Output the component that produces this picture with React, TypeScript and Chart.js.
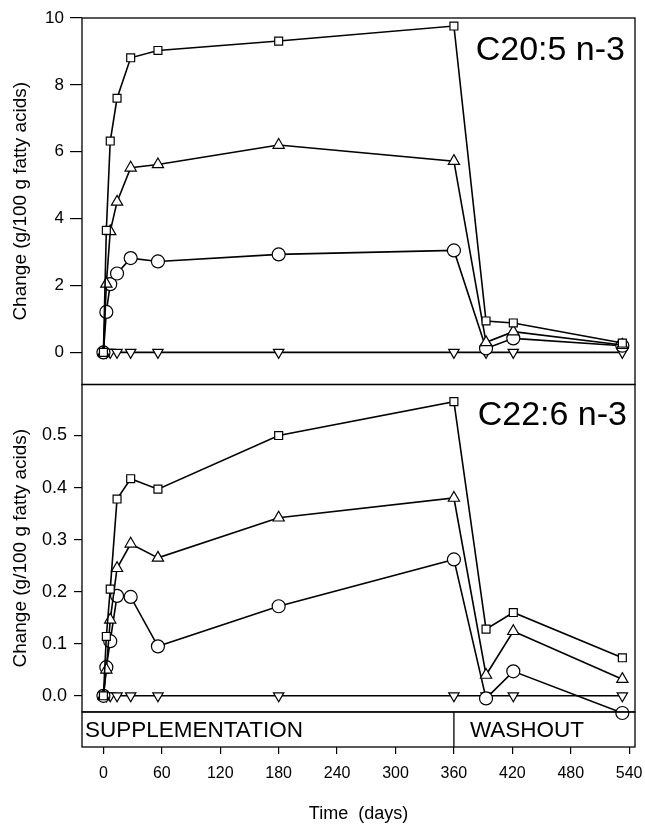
import React, { useEffect, useRef } from 'react';
import { Chart, registerables } from 'chart.js';

Chart.register(...registerables);

const FONT = "'Liberation Sans', Arial, Helvetica, sans-serif";

// Time points (days)
const days = [0, 3, 7, 14, 28, 56, 180, 360, 393, 421, 533];

// C20:5 n-3 (top panel)
const epaSquare = [0, 3.65, 6.32, 7.6, 8.81, 9.03, 9.31, 9.76, 0.94, 0.88, 0.28];
const epaTriangle = [0, 2.05, 3.62, 4.5, 5.52, 5.62, 6.2, 5.72, 0.3, 0.62, 0.22];
const epaCircle = [0, 1.21, 2.04, 2.36, 2.82, 2.72, 2.93, 3.05, 0.12, 0.42, 0.2];
const epaControl = [0, 0, 0, 0, 0, 0, 0, 0, 0, 0, 0];

// C22:6 n-3 (bottom panel)
const dhaSquare = [0, 0.114, 0.205, 0.378, 0.417, 0.397, 0.5, 0.565, 0.128, 0.16, 0.073];
const dhaTriangle = [0, 0.05, 0.146, 0.245, 0.292, 0.265, 0.342, 0.38, 0.04, 0.124, 0.032];
const dhaCircle = [0, 0.055, 0.105, 0.192, 0.19, 0.095, 0.172, 0.262, -0.005, 0.047, -0.033];
const dhaControl = [0, 0, 0, 0, 0, 0, 0, 0, 0, 0, 0];

// Tick labels
const xTicks = [0, 60, 120, 180, 240, 300, 360, 420, 480, 540];
const epaTicks = [0, 2, 4, 6, 8, 10];
const dhaTicks = [0, 0.1, 0.2, 0.3, 0.4, 0.5];

// Texts
const panelLabels = ['C20:5 n-3', 'C22:6 n-3'];
const phaseLabels = ['SUPPLEMENTATION', 'WASHOUT'];
const phaseBoundary = 360;
const yTitle = 'Change (g/100 g fatty acids)';
const xTitle = 'Time  (days)';

function series(vals: number[], style: string, rotation: number, radius: number, axis: string) {
  return {
    data: days.map((d, i) => ({ x: d, y: vals[i] })),
    yAxisID: axis,
    borderColor: '#000',
    borderWidth: 1.6,
    pointStyle: style,
    pointRotation: rotation,
    pointRadius: radius,
    pointBackgroundColor: '#fff',
    pointBorderColor: '#000',
    pointBorderWidth: 1.2,
    tension: 0,
    clip: false as any,
  };
}

const framePlugin = {
  id: 'frames',
  afterDraw(chart: any) {
    const { ctx, chartArea, scales } = chart;
    ctx.save();
    ctx.strokeStyle = '#000';
    ctx.lineWidth = 1.3;
    for (const id of ['yEpa', 'yDha', 'yPhase']) {
      const s = scales[id];
      ctx.strokeRect(chartArea.left, s.top, chartArea.right - chartArea.left, s.bottom - s.top);
    }
    const ph = scales.yPhase;
    const xb = scales.x.getPixelForValue(phaseBoundary);
    ctx.beginPath();
    ctx.moveTo(xb, ph.top);
    ctx.lineTo(xb, ph.bottom);
    ctx.stroke();

    ctx.fillStyle = '#000';
    ctx.textBaseline = 'middle';
    ctx.textAlign = 'left';
    ctx.font = `22.5px ${FONT}`;
    const my = (ph.top + ph.bottom) / 2 + 1;
    ctx.fillText(phaseLabels[0], chartArea.left + 3, my);
    ctx.fillText(phaseLabels[1], xb + 16, my);

    ctx.font = `34px ${FONT}`;
    ctx.textAlign = 'right';
    ctx.textBaseline = 'alphabetic';
    ctx.fillText(panelLabels[0], chartArea.right - 10, scales.yEpa.top + 42);
    ctx.fillText(panelLabels[1], chartArea.right - 8, scales.yDha.top + 40);
    ctx.restore();
  },
};

function yAxis(
  weight: number,
  min: number,
  max: number,
  ticks: number[],
  fmt: (v: number) => string,
  showTitle: boolean,
  tickSize: number,
  tickLen: number,
  tickPad: number
) {
  return {
    type: 'linear',
    position: 'left',
    stack: 'panels',
    stackWeight: weight,
    min,
    max,
    afterBuildTicks: (s: any) => {
      s.ticks = ticks.map((v) => ({ value: v }));
    },
    afterFit: (s: any) => {
      s.width = 82;
    },
    ticks: {
      display: ticks.length > 0,
      color: '#000',
      font: { family: FONT, size: tickSize },
      padding: tickPad,
      callback: (v: any) => fmt(Number(v)),
    },
    grid: {
      display: ticks.length > 0,
      drawOnChartArea: false,
      drawTicks: true,
      tickLength: tickLen,
      color: '#000',
      lineWidth: 1.2,
    },
    border: { display: false },
    title: {
      display: showTitle,
      text: yTitle,
      color: '#000',
      font: { family: FONT, size: 19 },
      padding: { top: 9, bottom: 0 },
    },
  };
}

export default function App() {
  const ref = useRef<HTMLCanvasElement>(null);
  useEffect(() => {
    document.body.style.margin = '0';
    const canvas = ref.current;
    if (!canvas) return;
    const chart = new Chart(canvas, {
      type: 'line',
      data: {
        datasets: [
          series(epaSquare, 'rect', 0, 5.6, 'yEpa'),
          series(epaTriangle, 'triangle', 0, 6.5, 'yEpa'),
          series(epaCircle, 'circle', 0, 6.5, 'yEpa'),
          series(epaControl, 'triangle', 180, 6, 'yEpa'),
          series(dhaSquare, 'rect', 0, 5.6, 'yDha'),
          series(dhaTriangle, 'triangle', 0, 6.5, 'yDha'),
          series(dhaCircle, 'circle', 0, 6.5, 'yDha'),
          series(dhaControl, 'triangle', 180, 6, 'yDha'),
        ] as any,
      },
      options: {
        animation: false,
        responsive: false,
        maintainAspectRatio: false,
        layout: { padding: { top: 18, right: 10, left: 0, bottom: 0 } },
        plugins: { legend: { display: false }, tooltip: { enabled: false } },
        scales: {
          x: {
            type: 'linear',
            position: 'bottom',
            min: -22,
            max: 546,
            afterBuildTicks: (s: any) => {
              s.ticks = xTicks.map((v) => ({ value: v }));
            },
            afterFit: (s: any) => {
              s.height = 79;
              s.paddingLeft = 0;
              s.paddingRight = 0;
            },
            ticks: {
              color: '#000',
              font: { family: FONT, size: 16 },
              padding: 10,
              maxRotation: 0,
              autoSkip: false,
            },
            grid: {
              display: true,
              drawOnChartArea: false,
              drawTicks: true,
              tickLength: 7,
              color: '#000',
              lineWidth: 1.2,
            },
            border: { display: false },
            title: {
              display: true,
              text: xTitle,
              color: '#000',
              font: { family: FONT, size: 18 },
              padding: { top: 0, bottom: 1 },
            },
          },
          yPhase: yAxis(35, 0, 1, [], (v) => '', false, 16, 8, 7),
          yDha: yAxis(327, -0.031, 0.598, dhaTicks, (v) => v.toFixed(1), true, 18, 8, 7),
          yEpa: yAxis(366, -0.96, 10, epaTicks, (v) => String(v), true, 17, 12, 6),
        } as any,
      },
      plugins: [framePlugin],
    });
    return () => chart.destroy();
  }, []);
  return (
    <div style={{ width: 645, height: 826 }}>
      <canvas ref={ref} width={645} height={826} style={{ display: 'block' }} />
    </div>
  );
}
